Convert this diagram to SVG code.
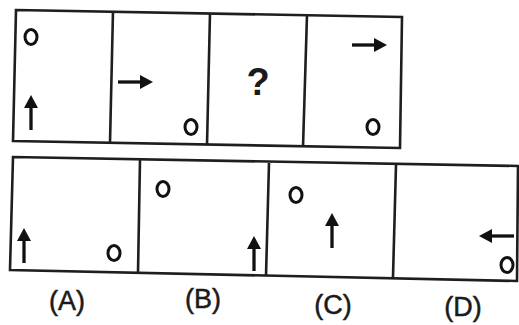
<svg xmlns="http://www.w3.org/2000/svg" xmlns:xlink="http://www.w3.org/1999/xlink" width="519" height="325" viewBox="0 0 519 325">
<style>
.frame{fill:none;stroke:#1e1e1e;stroke-width:2.6;stroke-linejoin:miter}
.div{stroke:#1e1e1e;stroke-width:2.6}
.o{fill:none;stroke:#111;stroke-width:3}
.lbl{font-family:"Liberation Sans",Arial,sans-serif;font-size:27px;fill:#1a1a1a;stroke:#1a1a1a;stroke-width:0.5;text-anchor:middle}
.q{font-family:"Liberation Sans",Arial,sans-serif;font-size:38px;font-weight:bold;fill:#1a1a1a;text-anchor:middle}
</style>
<defs>
<g id="arr">
<line x1="0" y1="10" x2="0" y2="35" stroke="#111" stroke-width="3.3"/>
<polygon points="0,0 -7,13 7,13" fill="#111"/>
</g>
</defs>
<rect width="519" height="325" fill="#fff"/>
<g id="frames">
<polygon class="frame" points="16,10 402,17 400,148 13,141"/>
<line class="div" x1="113" y1="11" x2="110" y2="143"/>
<line class="div" x1="210" y1="13" x2="207" y2="145"/>
<line class="div" x1="307" y1="15" x2="303" y2="147"/>
<polygon class="frame" points="13,157 518,166 517,281 10,270"/>
<line class="div" x1="140" y1="159" x2="138" y2="273"/>
<line class="div" x1="269" y1="163" x2="266" y2="276"/>
<line class="div" x1="396" y1="165" x2="393" y2="277"/>
</g>
<g id="fig1">
<ellipse class="o" cx="31" cy="37" rx="6" ry="7.5"/>
<use xlink:href="#arr" transform="translate(31,95)"/>
</g>
<g id="fig2">
<use xlink:href="#arr" transform="translate(153,82) rotate(90)"/>
<ellipse class="o" cx="191" cy="127" rx="6" ry="7.5"/>
</g>
<g id="fig3">
<text class="q" x="258" y="95">?</text>
</g>
<g id="fig4">
<use xlink:href="#arr" transform="translate(387,45) rotate(90)"/>
<ellipse class="o" cx="373" cy="127" rx="6" ry="7.5"/>
</g>
<g id="optA">
<use xlink:href="#arr" transform="translate(24,228)"/>
<ellipse class="o" cx="114" cy="253" rx="6" ry="7.5"/>
<text class="lbl" x="67" y="310">(A)</text>
</g>
<g id="optB">
<ellipse class="o" cx="163" cy="189" rx="6" ry="7.5"/>
<use xlink:href="#arr" transform="translate(254,236)"/>
<text class="lbl" x="203" y="308">(B)</text>
</g>
<g id="optC">
<ellipse class="o" cx="296" cy="195" rx="6" ry="7.5"/>
<use xlink:href="#arr" transform="translate(332,213)"/>
<text class="lbl" x="333" y="314">(C)</text>
</g>
<g id="optD">
<use xlink:href="#arr" transform="translate(479,236) rotate(-90)"/>
<ellipse class="o" cx="507" cy="265" rx="6" ry="7.5"/>
<text class="lbl" x="463" y="316">(D)</text>
</g>
</svg>
